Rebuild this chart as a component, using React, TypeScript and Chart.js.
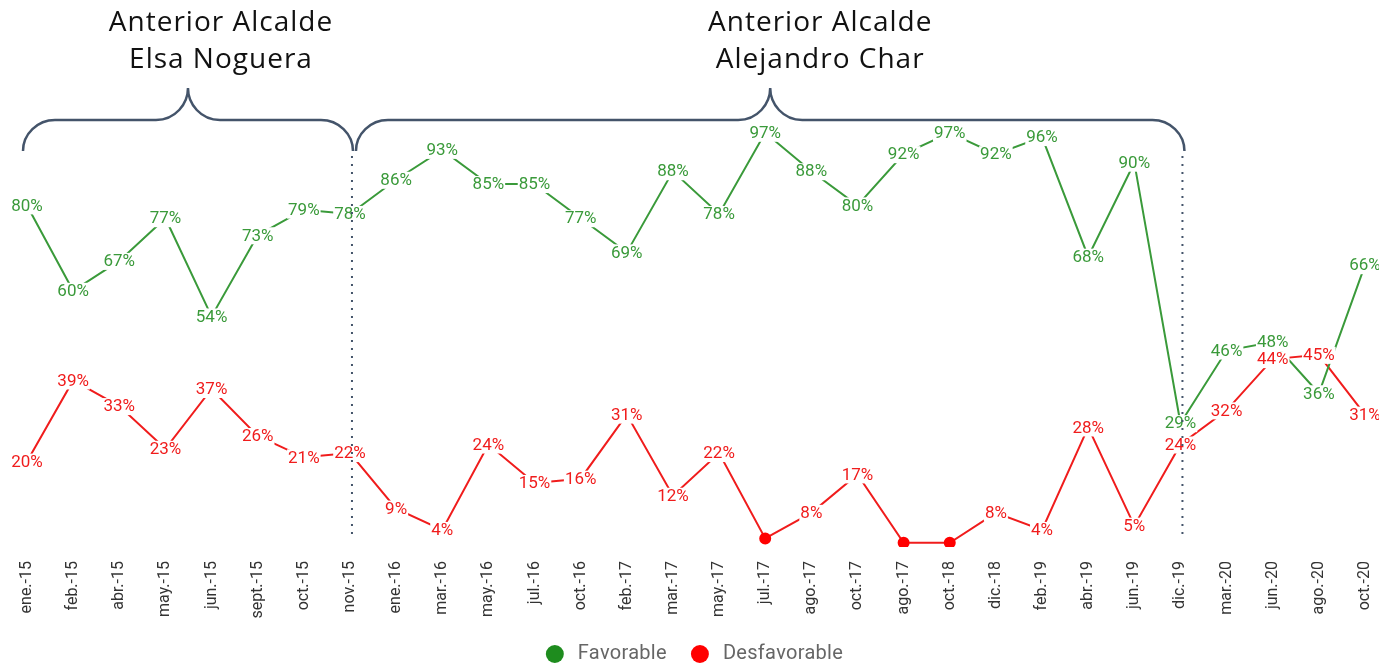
import React, { useEffect, useRef } from "react";
import { Chart, registerables } from "chart.js";

Chart.register(...registerables);

const categories = [
  "ene.-15", "feb.-15", "abr.-15", "may.-15", "jun.-15", "sept.-15", "oct.-15", "nov.-15",
  "ene.-16", "mar.-16", "may.-16", "jul.-16", "oct.-16", "feb.-17", "mar.-17", "may.-17",
  "jul.-17", "ago.-17", "oct.-17", "ago.-17", "oct.-18", "dic.-18", "feb.-19", "abr.-19",
  "jun.-19", "dic.-19", "mar.-20", "jun.-20", "ago.-20", "oct.-20",
];
const favorable = [80, 60, 67, 77, 54, 73, 79, 78, 86, 93, 85, 85, 77, 69, 88, 78, 97, 88, 80, 92, 97, 92, 96, 68, 90, 29, 46, 48, 36, 66];
const desfavorable = [20, 39, 33, 23, 37, 26, 21, 22, 9, 4, 24, 15, 16, 31, 12, 22, 2, 8, 17, 1, 1, 8, 4, 28, 5, 24, 32, 44, 45, 31];

const periods = [
  { lines: ["Anterior Alcalde", "Elsa Noguera"], from: 0, to: 7, textShift: 33 },
  { lines: ["Anterior Alcalde", "Alejandro Char"], from: 7, to: 25, textShift: 50 },
];
const dividers = [7, 25];
const legendItems = [
  { text: "Favorable", color: "#1e8c1e" },
  { text: "Desfavorable", color: "#ff0000" },
];

const GREEN = "#3a9a3a";
const RED = "#f01c1c";
const BRACE = "#44546a";

const labelPlugin = {
  id: "pctLabels",
  afterDatasetsDraw(chart: any) {
    const ctx = chart.ctx;
    ctx.save();
    ctx.font = "17px Roboto";
    ctx.textAlign = "center";
    ctx.textBaseline = "middle";
    chart.data.datasets.forEach((ds: any, di: number) => {
      const meta = chart.getDatasetMeta(di);
      meta.data.forEach((pt: any, i: number) => {
        const v = ds.data[i];
        if (v < 3) return;
        const t = v + "%";
        const w = ctx.measureText(t).width;
        ctx.fillStyle = "#ffffff";
        ctx.fillRect(pt.x - w / 2 - 1, pt.y - 8, w + 2, 17);
        ctx.fillStyle = ds.borderColor;
        ctx.fillText(t, pt.x, pt.y + 1);
      });
    });
    ctx.restore();
  },
};

const bracePlugin = {
  id: "braces",
  afterDraw(chart: any) {
    const ctx = chart.ctx;
    const xs = chart.scales.x;
    ctx.save();
    // dotted dividers
    ctx.strokeStyle = BRACE;
    ctx.lineWidth = 2;
    ctx.setLineDash([2, 6]);
    dividers.forEach((d) => {
      const x = xs.getPixelForValue(d) + 2;
      ctx.beginPath();
      ctx.moveTo(x, 156);
      ctx.lineTo(x, 540);
      ctx.stroke();
    });
    ctx.setLineDash([]);
    // braces
    ctx.lineWidth = 2.5;
    const yb = 151, ym = 120, yp = 88, r = 32;
    periods.forEach((p, idx) => {
      const x1 = xs.getPixelForValue(p.from) + (idx === 0 ? -4 : 6);
      const x2 = xs.getPixelForValue(p.to) + (idx === 0 ? 3 : 4);
      const xm = (x1 + x2) / 2;
      const k = 0.55;
      ctx.beginPath();
      ctx.moveTo(x1, yb);
      ctx.bezierCurveTo(x1, yb - k * (yb - ym), x1 + r - k * r, ym, x1 + r, ym);
      ctx.lineTo(xm - r, ym);
      ctx.bezierCurveTo(xm - r * 0.4, ym, xm, ym - (ym - yp) * 0.5, xm, yp);
      ctx.bezierCurveTo(xm, ym - (ym - yp) * 0.5, xm + r * 0.4, ym, xm + r, ym);
      ctx.lineTo(x2 - r, ym);
      ctx.bezierCurveTo(x2 - r + k * r, ym, x2, yb - k * (yb - ym), x2, yb);
      ctx.stroke();
      ctx.fillStyle = "#111111";
      ctx.font = "28px 'Open Sans'";
      (ctx as any).letterSpacing = "1px";
      ctx.textAlign = "center";
      ctx.textBaseline = "middle";
      ctx.fillText(p.lines[0], xm + p.textShift, 23);
      ctx.fillText(p.lines[1], xm + p.textShift, 60);
      (ctx as any).letterSpacing = "0px";
    });
    // legend
    ctx.font = "20px Roboto";
    (ctx as any).letterSpacing = "0.3px";
    ctx.textAlign = "left";
    ctx.textBaseline = "middle";
    const widths = legendItems.map((it) => ctx.measureText(it.text).width);
    const total = widths.reduce((a, b) => a + b, 0) + legendItems.length * 32 + (legendItems.length - 1) * 24;
    let x = chart.width / 2 - total / 2 + 5;
    const y = 654;
    legendItems.forEach((it, i) => {
      ctx.fillStyle = it.color;
      ctx.beginPath();
      ctx.arc(x + 9, y, 9, 0, Math.PI * 2);
      ctx.fill();
      ctx.fillStyle = "#666666";
      ctx.fillText(it.text, x + 32, y);
      x += 32 + widths[i] + 24;
    });
    (ctx as any).letterSpacing = "0px";
    ctx.restore();
  },
};

export default function App() {
  const ref = useRef<HTMLCanvasElement>(null);
  useEffect(() => {
    const chart = new Chart(ref.current!, {
      type: "line",
      data: {
        labels: categories,
        datasets: [
          {
            label: "Favorable",
            data: favorable,
            borderColor: GREEN,
            backgroundColor: "#1e8c1e",
            borderWidth: 2,
            pointRadius: 0,
            pointHoverRadius: 0,
            tension: 0,
          },
          {
            label: "Desfavorable",
            data: desfavorable,
            borderColor: RED,
            backgroundColor: "#ff0000",
            borderWidth: 2,
            pointRadius: (c: any) => (c.raw < 3 ? 5 : 0),
            pointBackgroundColor: "#ff0000",
            pointBorderColor: "#ff0000",
            tension: 0,
          },
        ],
      },
      options: {
        animation: false,
        responsive: true,
        maintainAspectRatio: false,
        layout: { padding: { top: 120, left: 27, right: 14, bottom: 0 } },
        scales: {
          x: {
            offset: false,
            grid: { display: false },
            border: { display: false },
            afterFit: (s: any) => {
              s.height = 117;
              s.paddingLeft = 0;
              s.paddingRight = 0;
            },
            ticks: {
              minRotation: 90,
              maxRotation: 90,
              autoSkip: false,
              padding: 6,
              color: "#333333",
              font: { family: "Roboto", size: 16 },
            },
          },
          y: { display: false, min: 0, max: 100 },
        },
        plugins: {
          legend: { display: false },
          tooltip: { enabled: false },
        },
      },
      plugins: [labelPlugin, bracePlugin],
    });
    return () => chart.destroy();
  }, []);
  return (
    <div style={{ position: "fixed", left: 0, top: 0, width: 1379, height: 664 }}>
      <canvas ref={ref} />
    </div>
  );
}
